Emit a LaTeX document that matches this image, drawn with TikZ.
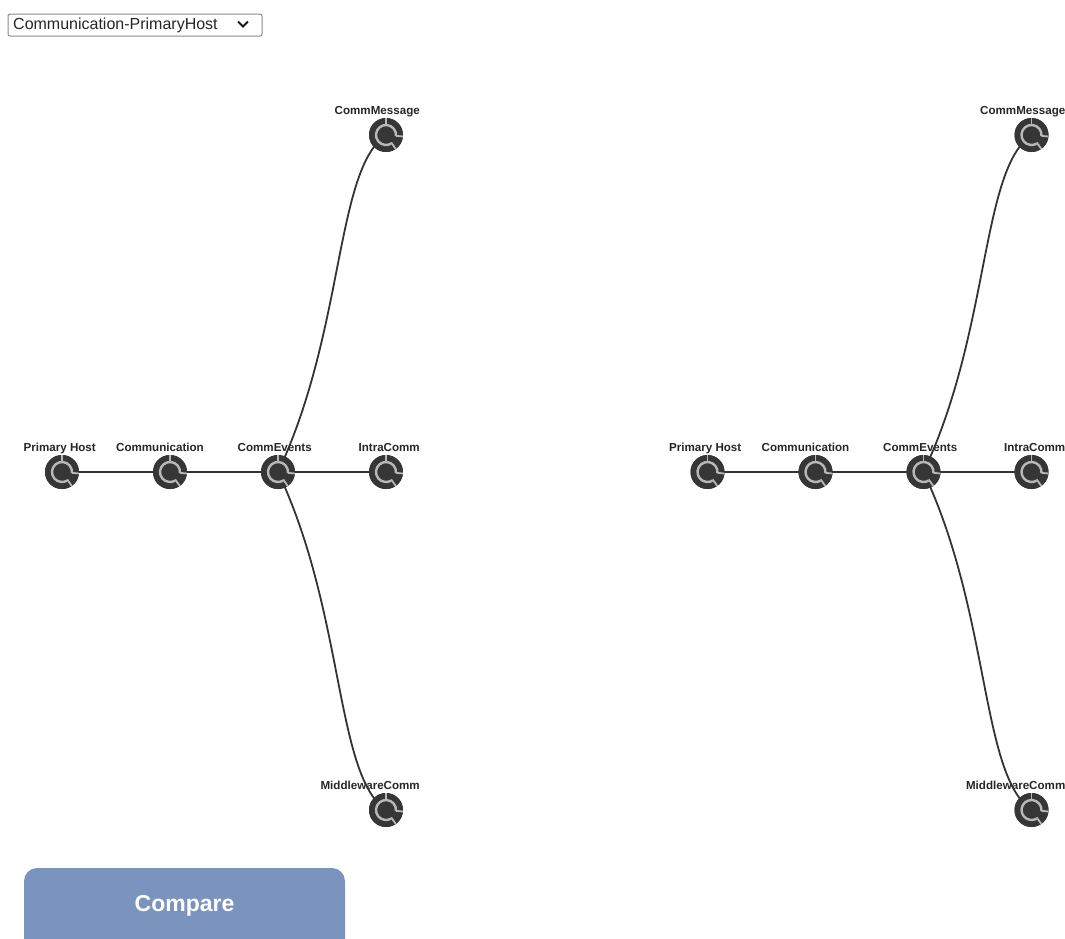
\documentclass[tikz,border=0pt]{standalone}
\usepackage{fontspec}
\setmainfont{Liberation Sans}
\definecolor{nodedark}{HTML}{363636}
\definecolor{ringgrey}{HTML}{B8B8B8}
\definecolor{linkc}{HTML}{333333}
\definecolor{btnblue}{HTML}{7A94BE}
\definecolor{boxgrey}{HTML}{8A8A8A}
\tikzset{
  gnode/.style={circle, fill=nodedark, minimum size=34pt, inner sep=0pt,
    path picture={
      \begin{scope}[shift={(path picture bounding box.center)}]
        \draw[ringgrey, line width=2.4pt] (5:10) arc[start angle=5, end angle=-300, radius=10];
        \draw[ringgrey, line width=1.8pt] (-90:10) -- (-90:18);
        \draw[ringgrey, line width=1.8pt] (5:10) -- (5:18);
        \draw[ringgrey, line width=1.8pt] (55:9) -- (55:18);
      \end{scope}
    }},
  glabel/.style={anchor=base east, inner sep=0pt, text=black!85,
    font=\fontsize{11.6}{12}\selectfont\bfseries},
  link/.style={draw=linkc, line width=1.8pt},
}
\newcommand\gnode[4]{%
  \node[gnode] (#1) at (#2,#3) {};
  \node[glabel] (#1-lab) at (#2+34,#3-21) {#4};}
\newcommand\drawtree[1]{%
  \draw[link] (#1ce.center) .. controls +(67,-142) and +(-51,35) .. (#1cm.center);
  \draw[link] (#1ce.center) .. controls +(67,142) and +(-51,-35) .. (#1mw.center);
  \draw[link] (#1ph.center) -- (#1co.center);
  \draw[link] (#1co.center) -- (#1ce.center);
  \draw[link] (#1ce.center) -- (#1ic.center);
}
\begin{document}
\begin{tikzpicture}[x=1pt, y=-1pt]
\useasboundingbox (0,0) rectangle (1065,938);
% dropdown
\draw[boxgrey, line width=1pt, rounded corners=2pt, fill=white] (8,14) rectangle (262,36);
\node[anchor=west, inner sep=0pt, font=\fontsize{16}{16}\selectfont, text=black!85] (sel) at (13,25) {Communication-PrimaryHost};
\coordinate (chv) at (243,24);
\draw[black!90, line width=2pt] ([shift={(-5,-2.5)}]chv) -- ([shift={(0,2.5)}]chv) -- ([shift={(5,-2.5)}]chv);
% button
\begin{scope}
  \clip (0,0) rectangle (1065,938);
  \fill[btnblue, rounded corners=13pt] (24,868) rectangle (345,960);
\end{scope}
\node[text=white, font=\fontsize{23}{24}\selectfont\bfseries] (compare) at (184.5,906) {Compare};
% left tree
\gnode{Lph}{62}{472}{Primary Host}
\gnode{Lco}{170}{472}{Communication}
\gnode{Lce}{278}{472}{CommEvents}
\gnode{Lic}{386}{472}{IntraComm}
\gnode{Lcm}{386}{135}{CommMessage}
\gnode{Lmw}{386}{810}{MiddlewareComm}
% right tree
\begin{scope}[xshift=645.5pt]
  \gnode{Rph}{62}{472}{Primary Host}
  \gnode{Rco}{170}{472}{Communication}
  \gnode{Rce}{278}{472}{CommEvents}
  \gnode{Ric}{386}{472}{IntraComm}
  \gnode{Rcm}{386}{135}{CommMessage}
  \gnode{Rmw}{386}{810}{MiddlewareComm}
\end{scope}
\drawtree{L}
\drawtree{R}
% redraw node disks on top of links
\foreach \n in {Lph,Lco,Lce,Lic,Lcm,Lmw,Rph,Rco,Rce,Ric,Rcm,Rmw}{
  \node[gnode] at (\n.center) {};
}
\end{tikzpicture}
\end{document}
